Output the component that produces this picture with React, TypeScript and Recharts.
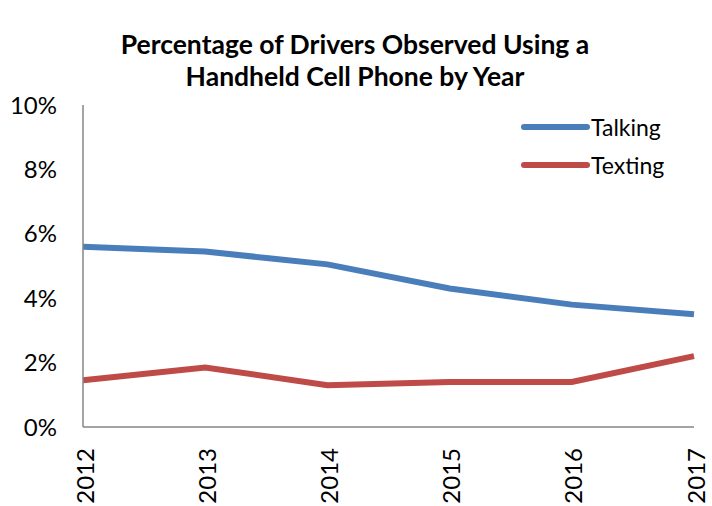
import React from "react";
import { LineChart, Line, XAxis, YAxis } from "recharts";

const years = ["2012", "2013", "2014", "2015", "2016", "2017"];
const talking = [5.6, 5.45, 5.05, 4.3, 3.8, 3.5];
const texting = [1.45, 1.85, 1.3, 1.4, 1.4, 2.2];
const yTicks = [0, 2, 4, 6, 8, 10];
const titleLines = ["Percentage of Drivers Observed Using a", "Handheld Cell Phone by Year"];
const seriesNames = ["Talking", "Texting"];

const data = years.map((y, i) => ({ year: y, Talking: talking[i], Texting: texting[i] }));

const FONT = "Lato, 'Open Sans', sans-serif";
const BLUE = "#4A7EBB";
const RED = "#BE4B48";
const colors = [BLUE, RED];

const XTick = (props: any) => {
  const { x, y, payload } = props;
  return (
    <text
      x={x}
      y={y}
      transform={`rotate(-90, ${x}, ${y})`}
      textAnchor="end"
      dominantBaseline="central"
      dx={-13}
      dy={1}
      fontSize={24}
      fontFamily={FONT}
      fill="#000"
    >
      {payload.value}
    </text>
  );
};

export default function App() {
  return (
    <div style={{ position: "absolute", left: 0, top: 0, width: 712, height: 506, background: "#fff" }}>
      <div
        style={{
          position: "absolute",
          left: 0,
          top: 28,
          width: 712,
          textAlign: "center",
          fontFamily: FONT,
          fontWeight: 700,
          fontSize: 26.5,
          lineHeight: "32px",
          color: "#000",
        }}
      >
        <div style={{ marginLeft: -2 }}>{titleLines[0]}</div>
        <div style={{ marginLeft: -2 }}>{titleLines[1]}</div>
      </div>
      <div style={{ position: "absolute", left: 0, top: 0 }}>
        <LineChart width={712} height={506} data={data} margin={{ top: 105, right: 18, bottom: 0, left: 8 }}>
          <XAxis
            dataKey="year"
            height={79}
            tickLine={false}
            axisLine={{ stroke: "#868686", strokeWidth: 1.5 }}
            tick={<XTick />}
            interval={0}
          />
          <YAxis
            width={75}
            domain={[0, 10]}
            ticks={yTicks}
            tickFormatter={(v: number) => `${v}%`}
            tickLine={false}
            tickSize={6}
            tickMargin={20}
            axisLine={{ stroke: "#868686", strokeWidth: 1.5 }}
            tick={{ fontSize: 24, fontFamily: FONT, fill: "#000" }}
          />
          <Line type="linear" dataKey="Talking" stroke={BLUE} strokeWidth={6} dot={false} isAnimationActive={false} />
          <Line type="linear" dataKey="Texting" stroke={RED} strokeWidth={6} dot={false} isAnimationActive={false} />
        </LineChart>
      </div>
      <div style={{ position: "absolute", left: 519, top: 108, fontFamily: FONT, fontSize: 23, color: "#000" }}>
        {seriesNames.map((n, i) => (
          <div key={n} style={{ display: "flex", alignItems: "center", height: 38 }}>
            <svg width={72} height={10}>
              <line x1={5} y1={5} x2={68} y2={5} stroke={colors[i]} strokeWidth={6} strokeLinecap="round" />
            </svg>
            <span>{n}</span>
          </div>
        ))}
      </div>
    </div>
  );
}
